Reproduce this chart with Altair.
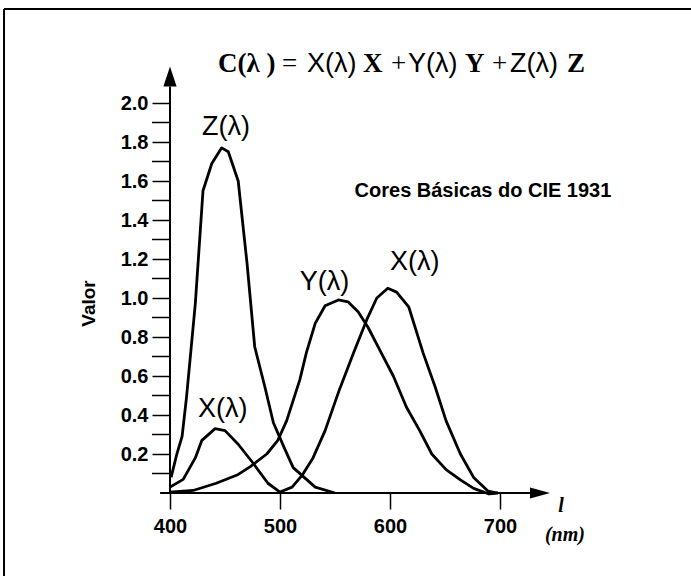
import altair as alt
import pandas as pd

# CIE 1931 colour-matching functions, sampled along each curve (wavelength in nm)
x_wl = [400, 412, 423, 429, 441, 450, 462, 476, 489, 500, 511, 520, 530, 541, 554, 567,
        579, 588, 598, 606, 617, 630, 641, 651, 664, 676, 689, 698]
x_val = [0.03, 0.07, 0.18, 0.27, 0.33, 0.32, 0.25, 0.15, 0.05, 0.005, 0.03, 0.09, 0.18, 0.32,
         0.53, 0.72, 0.89, 1.0, 1.05, 1.03, 0.955, 0.72, 0.545, 0.37, 0.2, 0.08, 0.01, 0.0]

y_wl = [400, 421, 442, 461, 473, 488, 498, 506, 518, 524, 532, 541, 553, 562, 571, 580,
        591, 603, 615, 627, 638, 651, 664, 676, 690, 698]
y_val = [0.005, 0.013, 0.05, 0.092, 0.135, 0.2, 0.27, 0.37, 0.58, 0.72, 0.87, 0.96, 0.99,
         0.98, 0.93, 0.85, 0.73, 0.6, 0.44, 0.32, 0.2, 0.12, 0.067, 0.024, -0.005, 0.0]

z_wl = [401, 406, 411, 415, 423, 430, 438, 447, 453, 462, 470, 477, 486, 494, 504, 512, 532, 550]
z_val = [0.08, 0.195, 0.29, 0.49, 0.97, 1.55, 1.69, 1.77, 1.75, 1.6, 1.18, 0.75, 0.55, 0.36,
         0.23, 0.13, 0.03, 0.0]

# axis ticks: labelled major ticks and unlabelled minor ticks on the value axis
x_ticks = [400, 500, 600, 700]
y_ticks = [0.2, 0.4, 0.6, 0.8, 1.0, 1.2, 1.4, 1.6, 1.8, 2.0]
y_minor = [0.1, 0.3, 0.5, 0.7, 0.9, 1.1, 1.3, 1.5, 1.7, 1.9]

# curve labels: text, left edge (nm), baseline (value)
curve_labels = ["Z(λ)", "X(λ)", "Y(λ)", "X(λ)"]
curve_label_x = [429, 425.5, 518, 600]
curve_label_y = [1.836, 0.39, 1.04, 1.144]

# equation pieces: text, font group, left edge (nm); shared baseline
eq_text = ["C(λ )", "=", "X(λ)", "X", "+", "Y(λ)", "Y", "+", "Z(λ)", "Z"]
eq_style = ["serif-bold", "serif", "sans", "serif-bold", "serif", "sans", "serif-bold",
            "serif", "sans", "serif-bold"]
eq_x = [443.6, 501.8, 524.5, 575.5, 601.0, 616.4, 668.2, 692.8, 709.1, 760.9]
eq_y = 2.159

subtitle = "Cores Básicas do CIE 1931"

# arrow-tipped axis lines, tick length and the outer frame, in data units
x_axis_start, x_axis_end = 391, 727.3
y_axis_end = 2.084
minor_tick_start = 383.64
frame_left, frame_top = 249.1, 2.482
frame_right, frame_bottom = 900.0, -0.6

curves = pd.concat([
    pd.DataFrame({"wl": x_wl, "v": x_val, "curve": "X", "i": range(len(x_wl))}),
    pd.DataFrame({"wl": y_wl, "v": y_val, "curve": "Y", "i": range(len(y_wl))}),
    pd.DataFrame({"wl": z_wl, "v": z_val, "curve": "Z", "i": range(len(z_wl))}),
])

xs = alt.Scale(domain=[400, 700], nice=False, zero=False)
ys = alt.Scale(domain=[0, 2], nice=False, zero=False)

black = "#000000"

lines = alt.Chart(curves).mark_line(
    color=black, strokeWidth=2.8, strokeJoin="round", clip=False
).encode(
    x=alt.X("wl:Q", scale=xs, axis=alt.Axis(
        values=x_ticks, format="d", tickSize=16, tickWidth=1.5, tickColor=black,
        domain=False, grid=False, labelFont="Liberation Sans", labelFontWeight="bold",
        labelFontSize=20, labelColor=black, labelPadding=7, labelFlush=False,
        labelOverlap=False, title=None)),
    y=alt.Y("v:Q", scale=ys, axis=alt.Axis(
        values=y_ticks, format=".1f",
        tickSize=18, tickWidth=1.5, tickColor=black, domain=False, grid=False,
        labelFont="Liberation Sans", labelFontWeight="bold", labelFontSize=20,
        labelColor=black, labelPadding=4, labelOverlap=False, labelFlush=False,
        title="Valor", titleFont="Liberation Sans", titleFontWeight="bold",
        titleFontSize=19, titleColor=black, titlePadding=22, titleY=200)),
    detail="curve:N",
    order="i:Q",
)

# unlabelled minor ticks between the labelled ones
minor = alt.Chart(pd.DataFrame({"v": y_minor, "a": minor_tick_start, "b": 400})).mark_rule(
    color=black, strokeWidth=1.5, clip=False
).encode(x=alt.X("a:Q", scale=xs), x2="b:Q", y=alt.Y("v:Q", scale=ys))

# axis lines
x_axis_line = alt.Chart(pd.DataFrame({"a": [x_axis_start], "b": [x_axis_end], "v": [0]})).mark_rule(
    color=black, strokeWidth=2, clip=False
).encode(x=alt.X("a:Q", scale=xs), x2="b:Q", y=alt.Y("v:Q", scale=ys))

y_axis_line = alt.Chart(pd.DataFrame({"wl": [400], "a": [0], "b": [y_axis_end]})).mark_rule(
    color=black, strokeWidth=2, clip=False
).encode(x=alt.X("wl:Q", scale=xs), y=alt.Y("a:Q", scale=ys), y2="b:Q")

y_arrow = alt.Chart(pd.DataFrame({"wl": [400], "v": [y_axis_end]})).mark_point(
    shape="M0,-1L-0.33,0L0.33,0Z", filled=True, size=1600, color=black, opacity=1, clip=False
).encode(x=alt.X("wl:Q", scale=xs), y=alt.Y("v:Q", scale=ys))

x_arrow = alt.Chart(pd.DataFrame({"wl": [x_axis_end], "v": [0]})).mark_point(
    shape="M1,0L0,-0.27L0,0.27Z", filled=True, size=1600, color=black, opacity=1, clip=False
).encode(x=alt.X("wl:Q", scale=xs), y=alt.Y("v:Q", scale=ys))

# outer frame (left and top edges)
frame_v = alt.Chart(pd.DataFrame({"wl": [frame_left], "a": [frame_bottom], "b": [frame_top]})).mark_rule(
    color=black, strokeWidth=2, clip=False
).encode(x=alt.X("wl:Q", scale=xs), y=alt.Y("a:Q", scale=ys), y2="b:Q")

frame_h = alt.Chart(pd.DataFrame({"a": [frame_left], "b": [frame_right], "v": [frame_top]})).mark_rule(
    color=black, strokeWidth=2, clip=False
).encode(x=alt.X("a:Q", scale=xs), x2="b:Q", y=alt.Y("v:Q", scale=ys))

# curve name labels
labels = alt.Chart(pd.DataFrame({"t": curve_labels, "wl": curve_label_x, "v": curve_label_y})).mark_text(
    font="Liberation Sans", fontSize=27, align="left", baseline="alphabetic", color=black
).encode(x=alt.X("wl:Q", scale=xs), y=alt.Y("v:Q", scale=ys), text="t:N")

# equation across the top
eq = pd.DataFrame({"t": eq_text, "s": eq_style, "wl": eq_x, "v": [eq_y] * len(eq_text)})

def eq_layer(style, font, weight):
    return alt.Chart(eq[eq["s"] == style]).mark_text(
        font=font, fontWeight=weight, fontSize=27, align="left",
        baseline="alphabetic", color=black
    ).encode(x=alt.X("wl:Q", scale=xs), y=alt.Y("v:Q", scale=ys), text="t:N")

eq_serif_bold = eq_layer("serif-bold", "Liberation Serif", "bold")
eq_serif = eq_layer("serif", "Liberation Serif", "normal")
eq_sans = eq_layer("sans", "Liberation Sans", "normal")

sub = alt.Chart(pd.DataFrame({"t": [subtitle], "wl": [684.5], "v": [1.518]})).mark_text(
    font="Liberation Sans", fontWeight="bold", fontSize=20, align="center",
    baseline="alphabetic", color=black
).encode(x=alt.X("wl:Q", scale=xs), y=alt.Y("v:Q", scale=ys), text="t:N")

# wavelength symbol and unit at the end of the horizontal axis
unit = alt.Chart(pd.DataFrame({"t": ["l", "(nm)"], "wl": [755.5, 759], "v": [-0.097, -0.246]})).mark_text(
    font="Liberation Serif", fontWeight="bold", fontStyle="italic", fontSize=20,
    align="center", baseline="alphabetic", color=black
).encode(x=alt.X("wl:Q", scale=xs), y=alt.Y("v:Q", scale=ys), text="t:N")

chart = alt.layer(
    frame_v, frame_h, lines, minor, x_axis_line, y_axis_line, y_arrow, x_arrow,
    labels, eq_serif_bold, eq_serif, eq_sans, sub, unit
).properties(
    width=330, height=390,
    padding={"left": 170, "top": 103, "right": 191, "bottom": 83},
    autosize="none",
    background="white",
).configure_view(stroke=None)

chart.save("out.html", embed_options={"renderer": "svg", "actions": False})
